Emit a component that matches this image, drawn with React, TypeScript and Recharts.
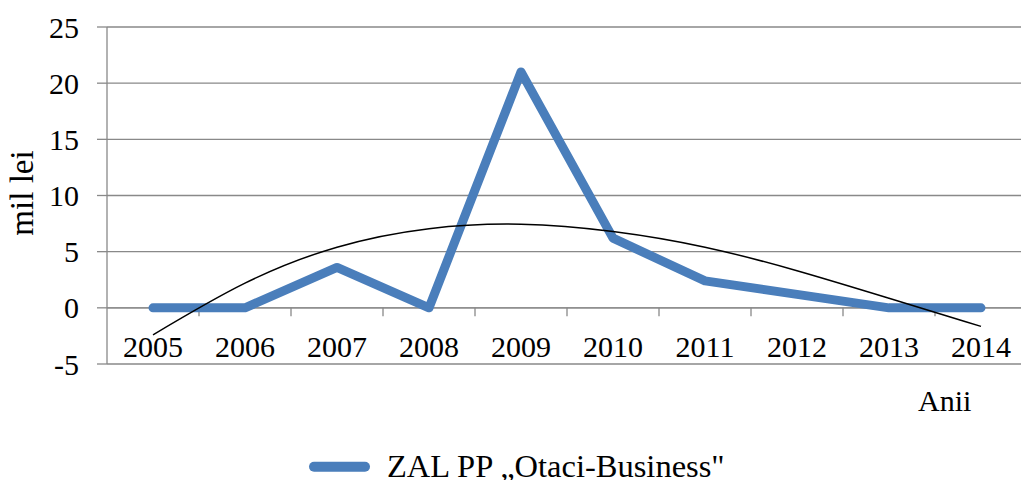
import React from "react";
import {
  LineChart,
  Line,
  XAxis,
  YAxis,
  CartesianGrid,
  ReferenceLine,
  Legend,
} from "recharts";

const FONT = "'Liberation Serif', 'Times New Roman', serif";
const GRID = "#898989";
const BLUE = "#4a7ebb";

const years = ["2005", "2006", "2007", "2008", "2009", "2010", "2011", "2012", "2013", "2014"];
const values = [0, 0, 3.6, 0, 21, 6.2, 2.4, 1.2, 0, 0];
// polynomial trendline
const trend = [-2.4, 2.2, 5.4, 7.05, 7.45, 6.8, 5.4, 3.3, 0.85, -1.65];
const yTicks = [-5, 0, 5, 10, 15, 20, 25];
const xTicks = [1, 2, 3, 4, 5, 6, 7, 8, 9, 10];
const tickMarks = [1.5, 2.5, 3.5, 4.5, 5.5, 6.5, 7.5, 8.5, 9.5, 10.5];

const data = years.map((year, i) => ({
  idx: i + 1,
  year,
  value: values[i],
  trend: trend[i],
}));

function YearTick({ x, y, payload }: any) {
  return (
    <text x={x} y={y - 7} textAnchor="middle" fontSize={30} fontFamily={FONT} fill="#000">
      {years[payload.value - 1]}
    </text>
  );
}

function LegendContent() {
  return (
    <svg width={500} height={50} style={{ overflow: "visible" }}>
      <line x1={14} y1={21.7} x2={65} y2={21.7} stroke={BLUE} strokeWidth={10} strokeLinecap="round" />
      <text x={87} y={31.5} fontSize={32.5} fontFamily={FONT} fill="#000">
        ZAL PP „Otaci-Business"
      </text>
    </svg>
  );
}

export default function App() {
  return (
    <div
      style={{
        position: "absolute",
        left: 0,
        top: 0,
        width: 1021,
        height: 480,
        overflow: "hidden",
        background: "#fff",
      }}
    >
      <LineChart width={1040} height={480} data={data} margin={{ top: 27, right: 13, left: 0, bottom: 0 }}>
        <CartesianGrid vertical={false} stroke={GRID} strokeWidth={1.3} />
        <XAxis
          dataKey="idx"
          type="number"
          domain={[0.5, 10.5]}
          ticks={xTicks}
          interval={0}
          height={116}
          axisLine={false}
          tickLine={false}
          tickSize={0}
          tickMargin={0}
          tick={<YearTick />}
          label={() => (
            <text x={918} y={411} fontSize={30} fontFamily={FONT} fill="#000">
              Anii
            </text>
          )}
        />
        <YAxis
          width={107}
          domain={[-5, 25]}
          ticks={yTicks}
          interval={0}
          tickSize={10}
          tickMargin={18}
          axisLine={{ stroke: GRID, strokeWidth: 1.3 }}
          tickLine={{ stroke: GRID, strokeWidth: 1.3 }}
          tick={{ fill: "#000", fontSize: 30, fontFamily: FONT }}
          label={() => (
            <text
              x={33}
              y={193}
              transform="rotate(-90, 33, 193)"
              textAnchor="middle"
              fontSize={33}
              fontFamily={FONT}
              fill="#000"
            >
              mil lei
            </text>
          )}
        />
        <ReferenceLine y={0} stroke={GRID} strokeWidth={1.3} />
        {tickMarks.map((m) => (
          <ReferenceLine
            key={m}
            segment={[
              { x: m, y: 0 },
              { x: m, y: -0.75 },
            ]}
            stroke={GRID}
            strokeWidth={1.3}
            ifOverflow="visible"
          />
        ))}
        <Legend
          verticalAlign="middle"
          align="center"
          layout="horizontal"
          content={<LegendContent />}
          wrapperStyle={{ left: 300, top: 445, width: 500, height: 35 }}
        />
        <Line
          dataKey="value"
          type="linear"
          stroke={BLUE}
          strokeWidth={9}
          strokeLinecap="round"
          strokeLinejoin="round"
          dot={false}
          activeDot={false}
          isAnimationActive={false}
        />
        <Line
          dataKey="trend"
          type="natural"
          stroke="#000"
          strokeWidth={1.5}
          dot={false}
          activeDot={false}
          legendType="none"
          isAnimationActive={false}
        />
      </LineChart>
    </div>
  );
}
